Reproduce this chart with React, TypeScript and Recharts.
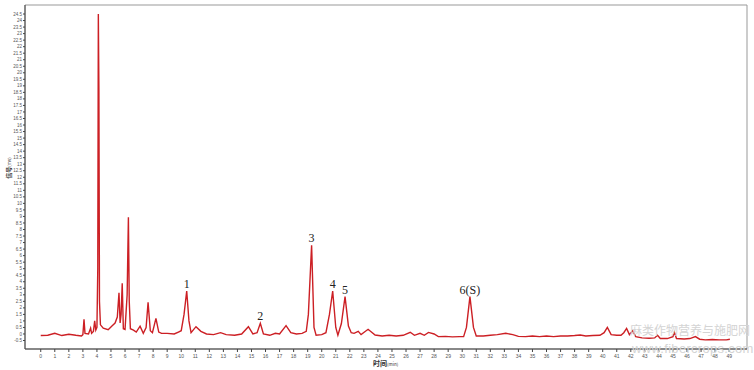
import { LineChart, Line, XAxis, YAxis, ReferenceArea, ReferenceDot } from "recharts";

// retention time (min) and detector signal (mv)
const times = [
  0, 0.5, 1.0, 1.5, 2.0, 2.5, 2.9, 3.0, 3.08, 3.15, 3.4, 3.55, 3.62, 3.75, 3.84, 3.92, 4.0, 4.06, 4.1, 4.14,
  4.18, 4.25, 4.45, 4.8, 5.05, 5.29, 5.45, 5.57, 5.65, 5.72, 5.8, 5.88, 6.0, 6.15, 6.24, 6.3, 6.38, 6.6,
  6.8, 7.07, 7.3, 7.5, 7.64, 7.8, 7.95, 8.2, 8.4, 8.6, 9.0, 9.5, 9.8, 10.0, 10.2, 10.39, 10.55, 10.7, 11.05, 11.4,
  11.8, 12.3, 12.8, 13.2, 13.8, 14.3, 14.78, 15.1, 15.4, 15.63, 15.85, 16.3, 16.7, 17.0, 17.46, 17.8, 18.2, 18.6, 18.9, 19.05,
  19.28, 19.45, 19.6, 20.0, 20.3, 20.55, 20.78, 21.0, 21.15, 21.4, 21.66, 21.9, 22.1, 22.3, 22.6, 22.8, 23.3, 23.8, 24.3, 24.8,
  25.3, 25.8, 26.3, 26.6, 27.0, 27.3, 27.6, 28.0, 28.3, 28.8, 29.3, 29.8, 30.1, 30.3, 30.55, 30.8, 31.0, 31.5, 32.0, 32.5,
  33.1, 33.6, 34.0, 34.5, 35.0, 35.5, 36.0, 36.5, 37.0, 37.5, 38.0, 38.4, 38.8, 39.3, 39.8, 40.1, 40.33, 40.6, 41.0, 41.3,
  41.5, 41.7, 41.9, 42.13, 42.35, 42.8, 43.3, 43.7, 43.9, 44.1, 44.6, 45.0, 45.1, 45.25, 45.8, 46.2, 46.6, 46.9, 47.3, 47.8,
  48.3, 48.8, 49.05,
];
const signal = [
  -0.12, -0.1, 0.05, -0.12, -0.02, -0.1, -0.15, -0.05, 1.12, 0.05, 0.0, 0.45, 0.05, 0.2, 1.0, 0.3, 0.5, 5, 24.5, 18.7,
  2.5, 0.7, 0.44, 0.33, 0.6, 0.84, 1.3, 3.16, 0.84, 1.5, 3.88, 0.4, 0.35, 3, 8.93, 2.5, 0.4, 0.3,
  0.15, 0.6, 0.05, 0.5, 2.42, 0.25, 0.1, 1.2, 0.15, 0.05, 0.05, 0.0, 0.15, 0.25, 1.5, 3.29, 1.0, 0.1, 0.56, 0.2,
  0.0, -0.05, 0.1, -0.05, -0.1, 0.0, 0.56, 0.0, 0.1, 0.82, 0.0, -0.1, 0.05, 0.0, 0.64, 0.1, 0.0, 0.05, 0.2, 1.5,
  6.8, 0.5, -0.1, -0.05, 0.1, 1.5, 3.29, 0.5, -0.1, 0.8, 2.86, 0.6, 0.1, 0.05, 0.2, -0.05, 0.36, -0.08, -0.15, -0.1,
  -0.15, -0.1, 0.13, -0.1, 0.05, -0.1, 0.12, 0.0, -0.2, -0.18, -0.22, -0.2, -0.2, 0.5, 2.86, 0.5, -0.15, -0.15, -0.1, -0.05,
  0.05, -0.05, -0.18, -0.2, -0.15, -0.2, -0.15, -0.2, -0.15, -0.15, -0.12, -0.08, -0.15, -0.12, -0.1, 0.1, 0.51, -0.05, -0.1, -0.1,
  0.1, 0.43, -0.05, 0.25, -0.2, -0.3, -0.33, -0.3, -0.1, -0.35, -0.35, -0.2, 0.13, -0.35, -0.38, -0.35, -0.2, -0.4, -0.45, -0.42,
  -0.45, -0.45, -0.4,
];

const peakNames = ["1", "2", "3", "4", "5", "6(S)"];
const peakTimes = [10.39, 15.63, 19.28, 20.78, 21.66, 30.55];
const peakHeights = [3.29, 0.82, 6.8, 3.29, 2.86, 2.86];

const xTicks = Array.from({ length: 50 }, (_, i) => i);
const yTicks = Array.from({ length: 51 }, (_, i) => -0.5 + i * 0.5);

const data = times.map((t, i) => ({ t, v: signal[i] }));

export default function App() {
  return (
    <div style={{ position: "absolute", left: 0, top: 0, width: 754, height: 370, background: "#fff" }}>
      <LineChart width={754} height={370} data={data} margin={{ top: 5, right: 7, left: 5, bottom: 0 }}>
        <XAxis
          dataKey="t"
          type="number"
          domain={[-1.12, 50.27]}
          ticks={xTicks}
          interval={0}
          height={21}
          tick={{ fill: "#555", fontSize: 5, fontFamily: "Liberation Sans" }}
          tickSize={3}
          tickMargin={2}
          stroke="#444"
        />
        <YAxis
          type="number"
          domain={[-1.15, 25.19]}
          ticks={yTicks}
          interval={0}
          width={20}
          tick={{ fill: "#555", fontSize: 4.5, fontFamily: "Liberation Sans" }}
          tickSize={2}
          tickMargin={1}
          stroke="#444"
        />
        <ReferenceArea x1={-1.12} x2={50.27} y1={-1.15} y2={25.19} fill="none" stroke="#999" strokeWidth={1} />
        <Line
          dataKey="v"
          type="linear"
          stroke="#cc1f24"
          strokeWidth={1.4}
          dot={false}
          isAnimationActive={false}
        />
        {peakNames.map((name, i) => (
          <ReferenceDot
            key={name}
            x={peakTimes[i]}
            y={peakHeights[i]}
            r={1}
            fill="none"
            stroke="none"
            label={{
              value: name,
              position: "top",
              offset: 2,
              fill: "#222",
              fontSize: 12,
              fontFamily: "Liberation Serif",
            }}
          />
        ))}
      </LineChart>
      <div
        style={{
          position: "absolute",
          left: 9,
          top: 168,
          transform: "translate(-50%, -50%) rotate(-90deg)",
          whiteSpace: "nowrap",
          fontFamily: "Noto Sans CJK SC",
          fontSize: 6,
          color: "#333",
          lineHeight: 1,
        }}
      >
        <span style={{ fontWeight: 700 }}>信号</span>
        <span style={{ fontSize: 4.5 }}>(mv)</span>
      </div>
      <div
        style={{
          position: "absolute",
          left: 373,
          top: 360,
          whiteSpace: "nowrap",
          fontFamily: "Noto Sans CJK SC",
          fontSize: 7,
          color: "#333",
          lineHeight: 1,
        }}
      >
        <span style={{ fontWeight: 700 }}>时间</span>
        <span style={{ fontSize: 4.5 }}>(min)</span>
      </div>
      <div
        style={{
          position: "absolute",
          left: 630,
          top: 324,
          fontSize: 12,
          fontFamily: "Noto Sans CJK SC",
          color: "#d4d4d4",
          lineHeight: 1,
          whiteSpace: "nowrap",
        }}
      >
        麻类作物营养与施肥网
      </div>
      <div
        style={{
          position: "absolute",
          left: 632,
          top: 342,
          fontSize: 13,
          fontFamily: "Liberation Sans",
          color: "#d4d4d4",
          lineHeight: 1,
          whiteSpace: "nowrap",
          letterSpacing: 0.3,
        }}
      >
        www.fibercrops.com
      </div>
    </div>
  );
}
